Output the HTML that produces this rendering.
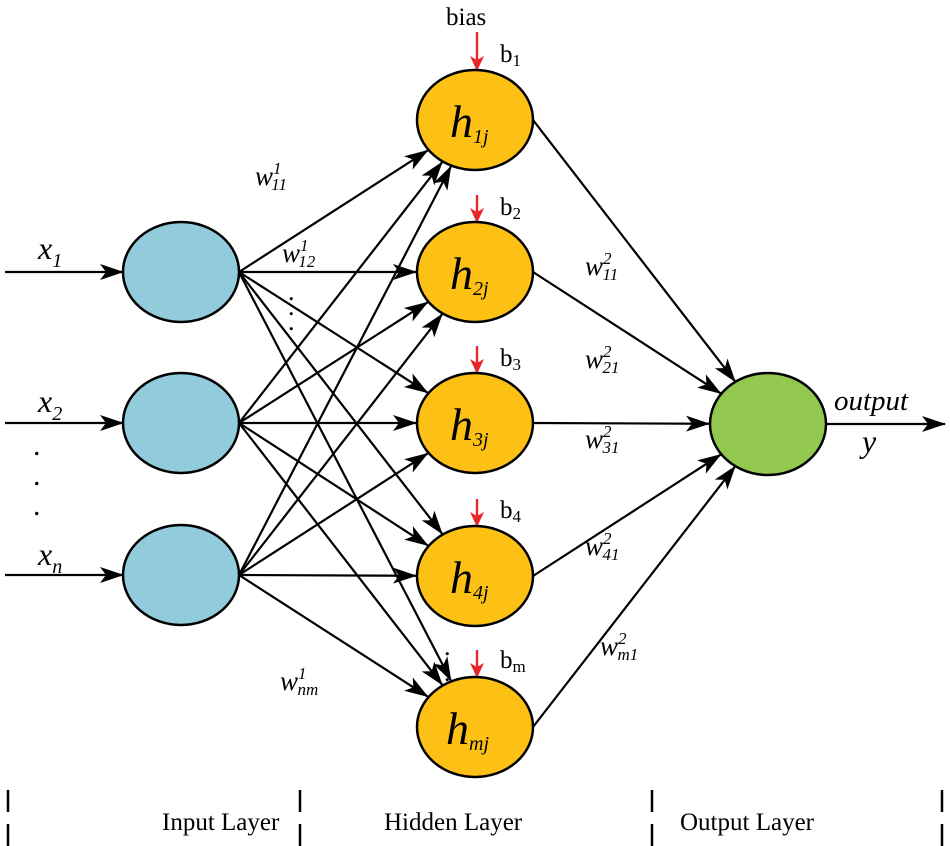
<!DOCTYPE html>
<html><head><meta charset="utf-8"><style>
html,body{margin:0;padding:0;background:#fff;}
svg{display:block;font-family:"Liberation Serif",serif;}
.i{font-style:italic;}
</style></head><body>
<svg id="s" width="950" height="846" viewBox="0 0 950 846" xmlns="http://www.w3.org/2000/svg">
<defs>
<marker id="a" markerWidth="24" markerHeight="18" refX="23" refY="9" orient="auto" markerUnits="userSpaceOnUse"><path d="M0,1 L24,9 L0,17 L6,9 z" fill="#000"/></marker>
<marker id="r" markerWidth="16" markerHeight="16" refX="14" refY="8" orient="auto" markerUnits="userSpaceOnUse"><path d="M0,1 L15,8 L0,15 L4,8 z" fill="#e8262a"/></marker>
</defs>
<g id="lines" stroke="#000" stroke-width="2.2" fill="none"></g>
<g id="nodes" stroke="#000" stroke-width="2.5"></g>
<g font-size="32" class="i">
<text x="38" y="259">x<tspan font-size="20" dy="8">1</tspan></text>
<text x="38" y="412">x<tspan font-size="20" dy="8">2</tspan></text>
<text x="38" y="565">x<tspan font-size="20" dy="8">n</tspan></text>
</g>
<g font-size="30" fill="#000">
<text x="33" y="455">.</text><text x="33" y="485">.</text><text x="33" y="515">.</text>
</g>
<g font-size="25">
<text x="446" y="25">bias</text>
<text x="500" y="62">b<tspan font-size="17" dy="4">1</tspan></text>
<text x="500" y="215">b<tspan font-size="17" dy="4">2</tspan></text>
<text x="500" y="366">b<tspan font-size="17" dy="4">3</tspan></text>
<text x="500" y="518">b<tspan font-size="17" dy="4">4</tspan></text>
<text x="500" y="668">b<tspan font-size="17" dy="4">m</tspan></text>
</g>
<g font-size="26" fill="#000">
<text x="288" y="300">.</text><text x="288" y="315">.</text><text x="288" y="330">.</text>
<text x="444" y="655">.</text><text x="444" y="668">.</text><text x="444" y="681">.</text>
</g>
<g id="wl" font-size="27" class="i"></g>
<g font-size="46" class="i">
<text x="450" y="137">h<tspan font-size="20" dy="6">1j</tspan></text>
<text x="450" y="289">h<tspan font-size="20" dy="6">2j</tspan></text>
<text x="450" y="440">h<tspan font-size="20" dy="6">3j</tspan></text>
<text x="450" y="593">h<tspan font-size="20" dy="6">4j</tspan></text>
<text x="446" y="744">h<tspan font-size="20" dy="6">mj</tspan></text>
</g>
<text x="834" y="410" font-size="29" class="i">output</text>
<text x="862" y="452" font-size="32" class="i">y</text>
<g stroke="#000" stroke-width="2.5" stroke-dasharray="22,12">
<line x1="8" y1="790" x2="8" y2="846"/><line x1="300" y1="790" x2="300" y2="846"/>
<line x1="652" y1="790" x2="652" y2="846"/><line x1="942" y1="790" x2="942" y2="846"/>
</g>
<g font-size="25">
<text x="162" y="830">Input Layer</text>
<text x="384" y="830">Hidden Layer</text>
<text x="680" y="830">Output Layer</text>
</g>
</svg>
<script>
var NS="http://www.w3.org/2000/svg";
function el(p,t,a){var e=document.createElementNS(NS,t);for(var k in a)e.setAttribute(k,a[k]);p.appendChild(e);return e;}
var L=document.getElementById('lines'),N=document.getElementById('nodes'),W=document.getElementById('wl');
var inp=[272,423,575],hid=[120,272,423,576,727],icx=181,hcx=475,rx=58,ry=50,ocx=768,ocy=424;
function hit(px,py,cx,cy,a,b){var dx=cx-px,dy=cy-py;var ux=dx/a,uy=dy/b;var d=Math.sqrt(ux*ux+uy*uy);var t=1-1/d;return [px+dx*t,py+dy*t];}
inp.forEach(function(y){el(L,'line',{x1:5,y1:y,x2:icx-rx,y2:y,'marker-end':'url(#a)'});
 hid.forEach(function(h){var p=hit(icx+rx,y,hcx,h,rx+1,ry+1);el(L,'line',{x1:icx+rx,y1:y,x2:p[0],y2:p[1],'marker-end':'url(#a)'});});});
hid.forEach(function(h){var p=hit(hcx+rx,h,ocx,ocy,rx+1,ry+1);el(L,'line',{x1:hcx+rx,y1:h,x2:p[0],y2:p[1],'marker-end':'url(#a)'});
 el(L,'line',{x1:477,y1:(h==120?h-88:h-77),x2:477,y2:h-50,stroke:'#e8262a','stroke-width':2.4,'marker-end':'url(#r)'});});
el(L,'line',{x1:826,y1:424,x2:945,y2:424,'marker-end':'url(#a)'});
inp.forEach(function(y){el(N,'ellipse',{cx:icx,cy:y,rx:rx,ry:ry,fill:'#92ccdc'});});
hid.forEach(function(y){el(N,'ellipse',{cx:hcx,cy:y,rx:rx,ry:ry,fill:'#fdc116'});});
el(N,'ellipse',{cx:ocx,cy:ocy,rx:rx,ry:51,fill:'#92c850'});
function wlab(x,y,sup,sub){var t=el(W,'text',{x:x,y:y});t.textContent='w';var s=el(t,'tspan',{'font-size':17,dy:-11});s.textContent=sup;var b=el(t,'tspan',{'font-size':17,dx:-9,dy:16});b.textContent=sub;}
wlab(255,185,'1','11');wlab(282,262,'1','12');wlab(280,690,'1','nm');
wlab(585,275,'2','11');wlab(585,368,'2','21');wlab(585,448,'2','31');wlab(585,555,'2','41');wlab(600,655,'2','m1');
</script>
</body></html>
